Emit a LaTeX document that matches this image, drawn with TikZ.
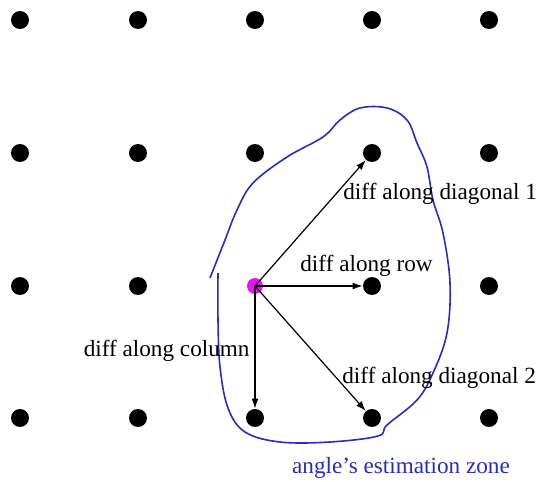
\documentclass[tikz,border=0pt]{standalone}
\usepackage{fontspec}
\setmainfont{Liberation Serif}
\usetikzlibrary{arrows.meta, positioning}
\definecolor{zone}{HTML}{2B2BC0}
\definecolor{centre}{HTML}{F010F0}
\tikzset{
  pix/.style={circle, fill=black, inner sep=0pt, minimum size=9pt},
  pix33/.style={fill=none},
  diffarrow/.style={-{Latex[length=5pt,width=3.5pt]}, semithick},
  lbl/.style={font=\fontsize{11.6}{14}\selectfont, inner sep=0pt}
}
\begin{document}
\begin{tikzpicture}[x=0.5pt, y=-0.5pt]
  \useasboundingbox (0,0) rectangle (538,482);
  % grid of pixels (the centre one stays empty)
  \foreach \x [count=\i] in {20,138,255,372,489}
    \foreach \y [count=\j] in {20,153,286,418}
      \node[pix, pix\i\j/.try] (d\i\j) at (\x,\y) {};
  % centre pixel
  \node[circle, fill=centre, inner sep=0pt, minimum size=8pt] (m) at (d33) {};
  % estimation zone
  \draw[zone, thick] plot[smooth, tension=0.6] coordinates {
    (210,278) (225,240) (237,210) (253,183) (287,157) (323,137) (340,120)
    (360,108) (387,108) (407,120) (417,143) (427,167) (433,200) (443,233)
    (450,283) (447,333) (433,373) (417,400) (387,425) (378,436) (330,442)
    (280,442) (245,432) (228,408) (220,367) (218,320) (218,273)};
  % differences
  \draw[diffarrow] (m.center) -- (d42);
  \draw[diffarrow] (m.center) -- (d43);
  \draw[diffarrow] (m.center) -- (d44);
  \draw[diffarrow] (m.center) -- (d34);
  \node[lbl, anchor=west] (l1) at (343,194) {diff along diagonal 1};
  \node[lbl, anchor=west] (l2) at (300,266) {diff along row};
  \node[lbl, anchor=east] (l3) at (250,351) {diff along column};
  \node[lbl, anchor=west] (l4) at (342,378) {diff along diagonal 2};
  \node[lbl, zone] (l5) at (401,468) {angle’s estimation zone};
\end{tikzpicture}
\end{document}
